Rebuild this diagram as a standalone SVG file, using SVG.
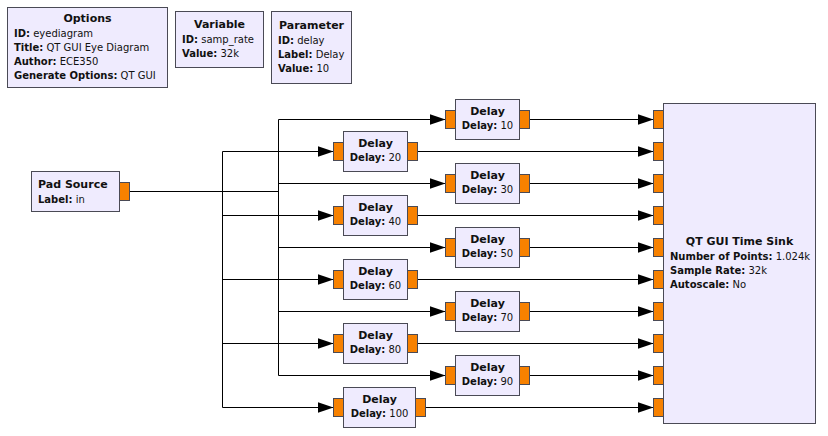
<svg xmlns="http://www.w3.org/2000/svg" width="828" height="436" viewBox="0 0 828 436">
<defs>
<style>
.blk{fill:#EFEBFE;stroke:#4A4A55;stroke-width:1}
.port{fill:#F78100;stroke:#4A4A55;stroke-width:1}
text{font-family:"DejaVu Sans","Liberation Sans",sans-serif;font-size:10px;fill:#111}
.b{font-weight:bold}
.t{font-weight:bold;font-size:11px}
.c{text-anchor:middle}
.w{fill:none;stroke:#000;stroke-width:1}
</style>
<marker id="arr" markerUnits="userSpaceOnUse" markerWidth="18" markerHeight="12" refX="16" refY="5.5" orient="auto">
<path d="M0,0 L16,5.5 L0,11 z" fill="#000"/>
</marker>
</defs>
<rect width="828" height="436" fill="#fff"/>

<g id="options">
<rect class="blk" x="7.5" y="7.5" width="160" height="80"/>
<text class="t c" x="87.5" y="22">Options</text>
<text x="14" y="37"><tspan class="b">ID:</tspan> eyediagram</text>
<text x="14" y="51"><tspan class="b">Title:</tspan> QT GUI Eye Diagram</text>
<text x="14" y="65"><tspan class="b">Author:</tspan> ECE350</text>
<text x="14" y="79"><tspan class="b">Generate Options:</tspan> QT GUI</text>
</g>
<g id="variable">
<rect class="blk" x="175.5" y="11.5" width="88" height="56"/>
<text class="t c" x="219.5" y="28">Variable</text>
<text x="182" y="43"><tspan class="b">ID:</tspan> samp_rate</text>
<text x="182" y="57"><tspan class="b">Value:</tspan> 32k</text>
</g>
<g id="parameter">
<rect class="blk" x="271.5" y="11.5" width="80" height="72"/>
<text class="t c" x="311.5" y="29">Parameter</text>
<text x="278" y="44"><tspan class="b">ID:</tspan> delay</text>
<text x="278" y="57.5"><tspan class="b">Label:</tspan> Delay</text>
<text x="278" y="71.5"><tspan class="b">Value:</tspan> 10</text>
</g>

<g id="connectors">
<path class="w" d="M129.5,191.5 H278.5 V119.5 H445.5" marker-end="url(#arr)"/>
<path class="w" d="M129.5,191.5 H222.5 V151.5 H333.5" marker-end="url(#arr)"/>
<path class="w" d="M278.5,191.5 V183.5 H445.5" marker-end="url(#arr)"/>
<path class="w" d="M222.5,191.5 V215.5 H333.5" marker-end="url(#arr)"/>
<path class="w" d="M278.5,191.5 V247.5 H445.5" marker-end="url(#arr)"/>
<path class="w" d="M222.5,191.5 V279.5 H333.5" marker-end="url(#arr)"/>
<path class="w" d="M278.5,191.5 V311.5 H445.5" marker-end="url(#arr)"/>
<path class="w" d="M222.5,191.5 V343.5 H333.5" marker-end="url(#arr)"/>
<path class="w" d="M278.5,191.5 V375.5 H445.5" marker-end="url(#arr)"/>
<path class="w" d="M222.5,191.5 V407.5 H333.5" marker-end="url(#arr)"/>
<path class="w" d="M529.5,119.5 H653.5" marker-end="url(#arr)"/>
<path class="w" d="M417.5,151.5 H653.5" marker-end="url(#arr)"/>
<path class="w" d="M529.5,183.5 H653.5" marker-end="url(#arr)"/>
<path class="w" d="M417.5,215.5 H653.5" marker-end="url(#arr)"/>
<path class="w" d="M529.5,247.5 H653.5" marker-end="url(#arr)"/>
<path class="w" d="M417.5,279.5 H653.5" marker-end="url(#arr)"/>
<path class="w" d="M529.5,311.5 H653.5" marker-end="url(#arr)"/>
<path class="w" d="M417.5,343.5 H653.5" marker-end="url(#arr)"/>
<path class="w" d="M529.5,375.5 H653.5" marker-end="url(#arr)"/>
<path class="w" d="M425.5,407.5 H653.5" marker-end="url(#arr)"/>
</g>

<g id="pad_source">
<rect class="blk" x="31.5" y="171.5" width="88" height="40"/>
<rect class="port" x="119.5" y="182.5" width="10" height="18"/>
<text class="t" x="38" y="187.5">Pad Source</text>
<text x="38" y="202.5"><tspan class="b">Label:</tspan> in</text>
</g>

<g id="delay10">
<rect class="blk" x="455.5" y="99.5" width="64" height="40"/>
<rect class="port" x="445.5" y="110.5" width="10" height="18"/>
<rect class="port" x="519.5" y="110.5" width="10" height="18"/>
<text class="t c" x="487.5" y="115">Delay</text>
<text class="c" x="487.5" y="129"><tspan class="b">Delay:</tspan> 10</text>
</g>
<g id="delay20">
<rect class="blk" x="343.5" y="131.5" width="64" height="40"/>
<rect class="port" x="333.5" y="142.5" width="10" height="18"/>
<rect class="port" x="407.5" y="142.5" width="10" height="18"/>
<text class="t c" x="375.5" y="147">Delay</text>
<text class="c" x="375.5" y="161"><tspan class="b">Delay:</tspan> 20</text>
</g>
<g id="delay30">
<rect class="blk" x="455.5" y="163.5" width="64" height="40"/>
<rect class="port" x="445.5" y="174.5" width="10" height="18"/>
<rect class="port" x="519.5" y="174.5" width="10" height="18"/>
<text class="t c" x="487.5" y="179">Delay</text>
<text class="c" x="487.5" y="193"><tspan class="b">Delay:</tspan> 30</text>
</g>
<g id="delay40">
<rect class="blk" x="343.5" y="195.5" width="64" height="40"/>
<rect class="port" x="333.5" y="206.5" width="10" height="18"/>
<rect class="port" x="407.5" y="206.5" width="10" height="18"/>
<text class="t c" x="375.5" y="211">Delay</text>
<text class="c" x="375.5" y="225"><tspan class="b">Delay:</tspan> 40</text>
</g>
<g id="delay50">
<rect class="blk" x="455.5" y="227.5" width="64" height="40"/>
<rect class="port" x="445.5" y="238.5" width="10" height="18"/>
<rect class="port" x="519.5" y="238.5" width="10" height="18"/>
<text class="t c" x="487.5" y="243">Delay</text>
<text class="c" x="487.5" y="257"><tspan class="b">Delay:</tspan> 50</text>
</g>
<g id="delay60">
<rect class="blk" x="343.5" y="259.5" width="64" height="40"/>
<rect class="port" x="333.5" y="270.5" width="10" height="18"/>
<rect class="port" x="407.5" y="270.5" width="10" height="18"/>
<text class="t c" x="375.5" y="275">Delay</text>
<text class="c" x="375.5" y="289"><tspan class="b">Delay:</tspan> 60</text>
</g>
<g id="delay70">
<rect class="blk" x="455.5" y="291.5" width="64" height="40"/>
<rect class="port" x="445.5" y="302.5" width="10" height="18"/>
<rect class="port" x="519.5" y="302.5" width="10" height="18"/>
<text class="t c" x="487.5" y="307">Delay</text>
<text class="c" x="487.5" y="321"><tspan class="b">Delay:</tspan> 70</text>
</g>
<g id="delay80">
<rect class="blk" x="343.5" y="323.5" width="64" height="40"/>
<rect class="port" x="333.5" y="334.5" width="10" height="18"/>
<rect class="port" x="407.5" y="334.5" width="10" height="18"/>
<text class="t c" x="375.5" y="339">Delay</text>
<text class="c" x="375.5" y="353"><tspan class="b">Delay:</tspan> 80</text>
</g>
<g id="delay90">
<rect class="blk" x="455.5" y="355.5" width="64" height="40"/>
<rect class="port" x="445.5" y="366.5" width="10" height="18"/>
<rect class="port" x="519.5" y="366.5" width="10" height="18"/>
<text class="t c" x="487.5" y="371">Delay</text>
<text class="c" x="487.5" y="385"><tspan class="b">Delay:</tspan> 90</text>
</g>
<g id="delay100">
<rect class="blk" x="343.5" y="387.5" width="72" height="40"/>
<rect class="port" x="333.5" y="398.5" width="10" height="18"/>
<rect class="port" x="415.5" y="398.5" width="10" height="18"/>
<text class="t c" x="379.5" y="403">Delay</text>
<text class="c" x="379.5" y="417"><tspan class="b">Delay:</tspan> 100</text>
</g>

<g id="time_sink">
<rect class="blk" x="663.5" y="103.5" width="152" height="320"/>
<rect class="port" x="653.5" y="110.5" width="10" height="18"/>
<rect class="port" x="653.5" y="142.5" width="10" height="18"/>
<rect class="port" x="653.5" y="174.5" width="10" height="18"/>
<rect class="port" x="653.5" y="206.5" width="10" height="18"/>
<rect class="port" x="653.5" y="238.5" width="10" height="18"/>
<rect class="port" x="653.5" y="270.5" width="10" height="18"/>
<rect class="port" x="653.5" y="302.5" width="10" height="18"/>
<rect class="port" x="653.5" y="334.5" width="10" height="18"/>
<rect class="port" x="653.5" y="366.5" width="10" height="18"/>
<rect class="port" x="653.5" y="398.5" width="10" height="18"/>
<text class="t c" x="739.5" y="245">QT GUI Time Sink</text>
<text x="670" y="259.5"><tspan class="b">Number of Points:</tspan> 1.024k</text>
<text x="670" y="273.5"><tspan class="b">Sample Rate:</tspan> 32k</text>
<text x="670" y="288"><tspan class="b">Autoscale:</tspan> No</text>
</g>
</svg>
